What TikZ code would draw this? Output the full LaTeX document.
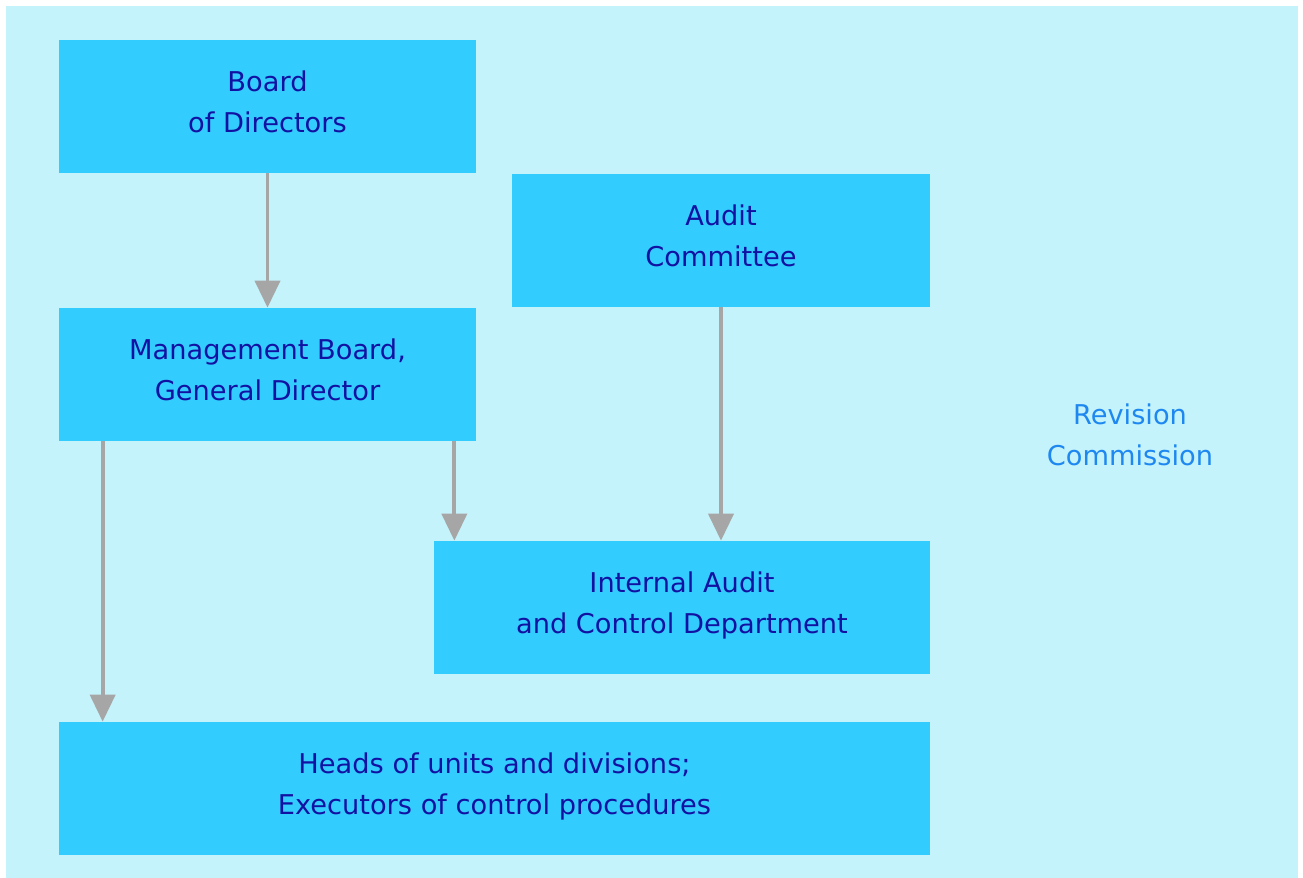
\documentclass[tikz,border=0pt]{standalone}
\usepackage{fontspec}
\setmainfont{DejaVu Sans}
\usepackage{tikz}
\usetikzlibrary{arrows.meta,positioning,calc}

\definecolor{bgcyan}{HTML}{C4F3FB}
\definecolor{boxcyan}{HTML}{33CCFF}
\definecolor{txtblue}{HTML}{1212A2}
\definecolor{revblue}{HTML}{1E88F0}
\definecolor{arrgray}{HTML}{A6A6A6}

\begin{document}
\begin{tikzpicture}[
    every node/.style={
      font=\fontsize{15.5}{23.3}\selectfont,
      align=center,
      text=txtblue
    },
    unit/.style={
      fill=boxcyan,
      inner sep=0pt,
      text depth=0.18cm,
      minimum height=2.66cm
    },
    link/.style={draw=arrgray, line width=2.2pt,
      -{Triangle[width=0.5cm,length=0.54cm]}}
  ]

  % Canvas
  \useasboundingbox (0,0) rectangle (26.06,-17.56);
  \fill[bgcyan] (0.12,-0.12) rectangle (25.96,-17.56);

  % Units
  \node[unit, minimum width=8.34cm] (board) at (5.35,-2.13) {Board\\of Directors};
  \node[unit, minimum width=8.36cm] (audit) at (14.42,-4.81) {Audit\\Committee};
  \node[unit, minimum width=8.34cm] (mgmt) at (5.35,-7.49) {Management Board,\\General Director};
  \node[unit, minimum width=9.92cm] (iadc) at (13.64,-12.15) {Internal Audit\\and Control Department};
  \node[unit, minimum width=17.42cm] (heads) at (9.89,-15.77) {Heads of units and divisions;\\Executors of control procedures};

  % Revision Commission
  \node[text=revblue] (rev) at (22.6,-8.7) {Revision\\Commission};

  % Links
  \draw[link] (board.south) -- (mgmt.north);
  \draw[link] ([xshift=-0.44cm]mgmt.south east) -- ([xshift=-0.44cm]mgmt.south east |- iadc.north);
  \draw[link] ([xshift=0.88cm]mgmt.south west) -- ([xshift=0.88cm]mgmt.south west |- heads.north);
  \draw[link] (audit.south) -- (iadc.north -| audit.south);

\end{tikzpicture}
\end{document}
